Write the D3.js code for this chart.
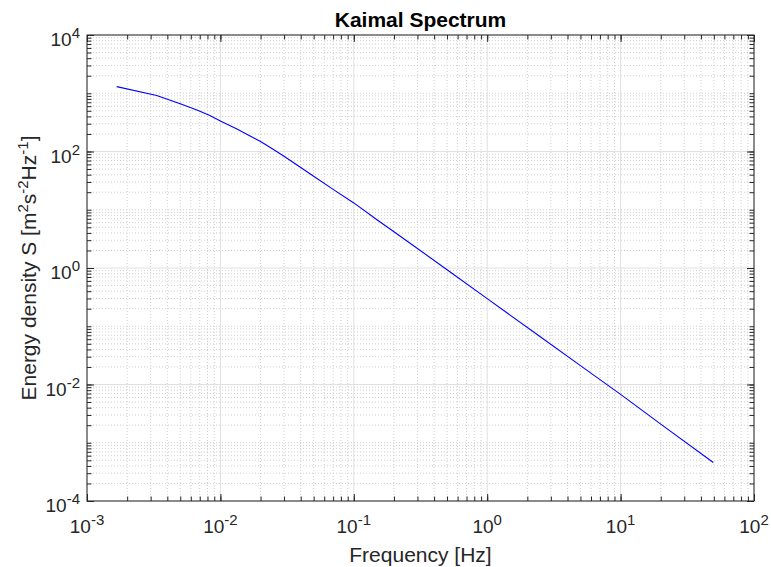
<!DOCTYPE html>
<html>
<head>
<meta charset="utf-8">
<script src="https://cdn.jsdelivr.net/npm/d3@7"></script>
<style>
  body { margin: 0; background: #fff; }
  text { font-family: "Liberation Sans", Arial, Helvetica, sans-serif; fill: #262626; }
</style>
</head>
<body>
<svg width="771" height="567"></svg>
<script>
// **** data ****
var freqHz = [0.00167, 0.00333, 0.005, 0.00667, 0.00833, 0.01, 0.0133, 0.0167, 0.02, 0.025,
              0.03, 0.04, 0.05, 0.07, 0.1, 0.15, 0.2, 0.3, 0.5, 1, 2.5, 5, 10, 20, 49.5];
var energyS = [1300, 915, 660, 516, 413, 335, 244, 185, 148, 108,
               82.8, 53.2, 37.7, 22.4, 13.1, 6.68, 4.2, 2.16, 0.934, 0.298, 0.066, 0.0211, 0.00676, 0.00209, 0.000457];

var xMajor = [-3, -2, -1, 0, 1, 2];      // exponents of x tick labels
var yMajor = [-4, -2, 0, 2, 4];          // exponents of y tick labels

var svg = d3.select('svg');

var plotL = 87, plotR = 754, plotT = 35, plotB = 501;

var xScale = d3.scaleLog().domain([1e-3, 1e2]).range([plotL, plotR]);
var yScale = d3.scaleLog().domain([1e-4, 1e4]).range([plotB, plotT]);

// minor values (every 1..9 x decade)
function minorVals(lo, hi) {
    var out = [];
    for (var e = lo; e < hi; e++) {
        for (var m = 1; m < 10; m++) out.push(m * Math.pow(10, e));
    }
    out.push(Math.pow(10, hi));
    return out;
}
var xMinor = minorVals(-3, 2);
var yMinor = minorVals(-4, 4);
var xMajorVals = xMajor.map(e => Math.pow(10, e));
var yMajorVals = yMajor.map(e => Math.pow(10, e));

// minor grid (dotted)
var grid = svg.append('g').attr('class', 'grid');
grid.selectAll('line.xminor')
    .data(xMinor.filter(v => xMajorVals.indexOf(v) < 0))
    .enter().append('line')
    .attr('x1', d => xScale(d)).attr('x2', d => xScale(d))
    .attr('y1', plotT).attr('y2', plotB)
    .attr('stroke', '#d0d0d0').attr('stroke-width', 1).attr('stroke-dasharray', '1,2');
grid.selectAll('line.yminor')
    .data(yMinor.filter(v => yMajorVals.indexOf(v) < 0))
    .enter().append('line')
    .attr('y1', d => yScale(d)).attr('y2', d => yScale(d))
    .attr('x1', plotL).attr('x2', plotR)
    .attr('stroke', '#d0d0d0').attr('stroke-width', 1).attr('stroke-dasharray', '1,2');

// major grid (solid)
grid.selectAll('line.xmajor')
    .data(xMajorVals)
    .enter().append('line')
    .attr('x1', d => xScale(d)).attr('x2', d => xScale(d))
    .attr('y1', plotT).attr('y2', plotB)
    .attr('stroke', '#e0e0e0').attr('stroke-width', 1);
grid.selectAll('line.ymajor')
    .data(yMajorVals)
    .enter().append('line')
    .attr('y1', d => yScale(d)).attr('y2', d => yScale(d))
    .attr('x1', plotL).attr('x2', plotR)
    .attr('stroke', '#e0e0e0').attr('stroke-width', 1);

// the spectrum
var pts = freqHz.map((f, i) => [xScale(f), yScale(energyS[i])]);
svg.append('path')
    .attr('d', d3.line()(pts))
    .attr('fill', 'none')
    .attr('stroke', '#0000ff')
    .attr('stroke-width', 1.1);

// ticks, inward on all four sides
function tickAxis(axis, vals, size, tr) {
    svg.append('g')
        .attr('transform', tr)
        .call(axis.tickValues(vals).tickSize(size).tickSizeOuter(0).tickFormat(''))
        .call(g => g.select('.domain').remove())
        .selectAll('line').attr('stroke', '#262626');
}
tickAxis(d3.axisBottom(xScale), xMinor, -4.5, 'translate(0,' + plotB + ')');
tickAxis(d3.axisBottom(xScale), xMajorVals, -7, 'translate(0,' + plotB + ')');
tickAxis(d3.axisTop(xScale), xMinor, -4.5, 'translate(0,' + plotT + ')');
tickAxis(d3.axisTop(xScale), xMajorVals, -7, 'translate(0,' + plotT + ')');
tickAxis(d3.axisLeft(yScale), yMinor, -4.5, 'translate(' + plotL + ',0)');
tickAxis(d3.axisLeft(yScale), yMajorVals, -7, 'translate(' + plotL + ',0)');
tickAxis(d3.axisRight(yScale), yMinor, -4.5, 'translate(' + plotR + ',0)');
tickAxis(d3.axisRight(yScale), yMajorVals, -7, 'translate(' + plotR + ',0)');

// box
svg.append('rect')
    .attr('x', plotL).attr('y', plotT)
    .attr('width', plotR - plotL).attr('height', plotB - plotT)
    .attr('fill', 'none').attr('stroke', '#262626').attr('stroke-width', 1);

// tick labels with superscripts
function powLabel(sel, e) {
    sel.append('tspan').text('10');
    sel.append('tspan').text(String(e))
        .style('font-size', '15px').attr('dy', -8);
}
xMajor.forEach(function(e) {
    var t = svg.append('text')
        .attr('x', xScale(Math.pow(10, e)))
        .attr('y', 533)
        .attr('text-anchor', 'middle')
        .style('font-size', '19px');
    powLabel(t, e);
});
yMajor.forEach(function(e) {
    var t = svg.append('text')
        .attr('x', 80)
        .attr('y', yScale(Math.pow(10, e)) + 11)
        .attr('text-anchor', 'end')
        .style('font-size', '19px');
    powLabel(t, e);
});

// title and axis labels
svg.append('text')
    .text('Kaimal Spectrum')
    .attr('x', (plotL + plotR) / 2).attr('y', 27)
    .attr('text-anchor', 'middle')
    .style('font-size', '21px').style('font-weight', 'bold')
    .style('fill', '#000');

svg.append('text')
    .text('Frequency [Hz]')
    .attr('x', (plotL + plotR) / 2).attr('y', 562)
    .attr('text-anchor', 'middle')
    .style('font-size', '21px');

var yl = svg.append('text')
    .attr('text-anchor', 'middle')
    .attr('transform', 'translate(36,' + ((plotT + plotB) / 2) + ') rotate(-90)')
    .style('font-size', '21px');
yl.append('tspan').text('Energy density S [m');
yl.append('tspan').text('2').style('font-size', '15px').attr('dy', -8);
yl.append('tspan').text('s').attr('dy', 8);
yl.append('tspan').text('-2').style('font-size', '15px').attr('dy', -8);
yl.append('tspan').text('Hz').attr('dy', 8);
yl.append('tspan').text('-1').style('font-size', '15px').attr('dy', -8);
yl.append('tspan').text(']').attr('dy', 8);
</script>
</body>
</html>
